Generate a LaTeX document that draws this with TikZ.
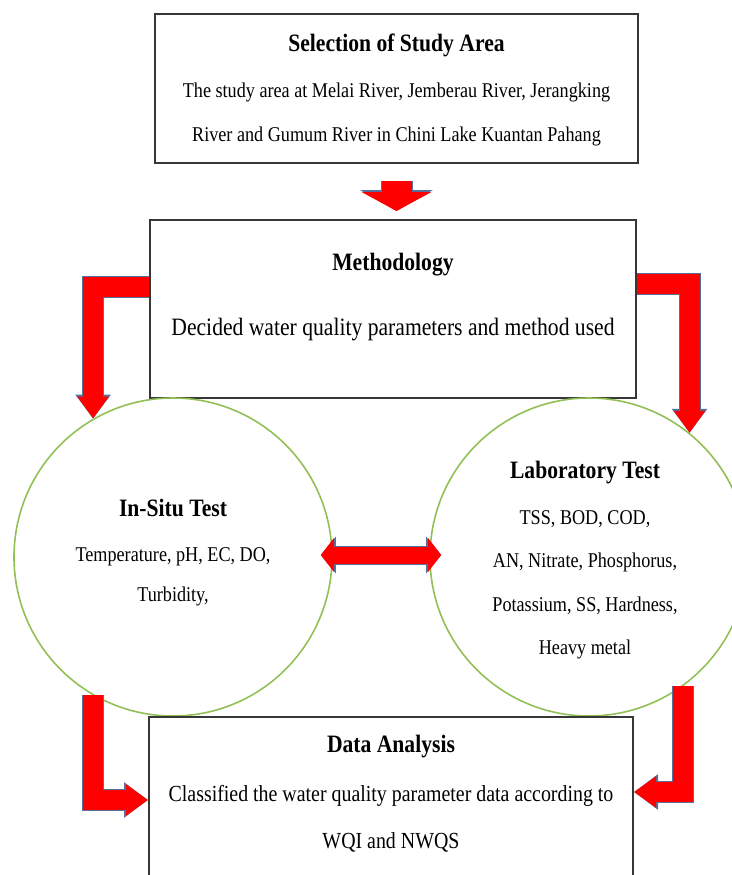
\documentclass[tikz,border=0pt]{standalone}
\usepackage{fontspec}
\setmainfont[FakeStretch=0.865]{Liberation Serif}
\usetikzlibrary{arrows.meta}
\definecolor{arrowred}{RGB}{255,0,0}
\definecolor{arrowedge}{RGB}{84,112,156}
\definecolor{ringgreen}{RGB}{146,192,86}
\definecolor{boxline}{RGB}{55,55,55}
\tikzstyle{format}=[rectangle,draw=boxline,line width=1pt,fill=white,inner sep=0pt]
\tikzstyle{test}=[circle,draw=ringgreen,line width=0.8pt,minimum size=159pt,inner sep=0pt]
\tikzstyle{title}=[inner sep=0pt,font=\bfseries\fontsize{12.5}{15}\selectfont]
\tikzstyle{body}=[align=center,inner sep=0pt,font=\fontsize{10.5}{22}\selectfont]
\tikzstyle{fat}=[draw=arrowred,line width=10pt,-{Triangle[length=11pt,width=15pt]},
  preaction={draw=arrowedge,line width=11pt,-{Triangle[length=12pt,width=17pt]}}]
\tikzstyle{bigdown}=[draw=arrowred,line width=15pt,-{Triangle[length=9.5pt,width=34.5pt]},
  preaction={draw=arrowedge,line width=16pt,-{Triangle[length=10.5pt,width=36pt]}}]
\tikzstyle{twoway}=[draw=arrowred,line width=8.5pt,{Triangle[length=6.5pt,width=16.5pt]}-{Triangle[length=6.5pt,width=16.5pt]},
  preaction={draw=arrowedge,line width=9.5pt,{Triangle[length=7.5pt,width=18pt]}-{Triangle[length=7.5pt,width=18pt]}}]

\begin{document}
\begin{tikzpicture}[x=0.5pt,y=-0.5pt]
  \useasboundingbox (0,0) rectangle (732,875);
  \clip (0,0) rectangle (732,875);
  % boxes
  \node[format,minimum width=241.5pt,minimum height=74.5pt] (select) at (396.5,88.5) {};
  \node[title] (selecttitle) at (396.5,45) {Selection of Study Area};
  \node[body] (selectbody) at (396.5,114) {The study area at Melai River, Jemberau River, Jerangking\\River and Gumum River in Chini Lake Kuantan Pahang};
  \node[format,minimum width=243pt,minimum height=89pt] (method) at (393,309) {};
  \node[title] (methodtitle) at (393,265) {Methodology};
  \node[body,font=\fontsize{12.5}{15}\selectfont] (methodbody) at (393,330) {Decided water quality parameters and method used};
  % tests
  \node[test] (insitu) at (173,557) {};
  \node[title] (insitutitle) at (173,508) {In-Situ Test};
  \node[body,font=\fontsize{10.5}{20}\selectfont] (insitubody) at (173,577) {Temperature, pH, EC, DO,\\Turbidity,};
  \node[test] (lab) at (589,557) {};
  \node[title] (labtitle) at (585,473) {Laboratory Test};
  \node[body,font=\fontsize{10.5}{21.7}\selectfont] (labbody) at (585,585) {TSS, BOD, COD,\\AN, Nitrate, Phosphorus,\\Potassium, SS, Hardness,\\Heavy metal};
  \node[format,minimum width=242pt,minimum height=83pt] (analysis) at (391,800) {};
  \node[title] (analysistitle) at (391,747) {Data Analysis};
  \node[body,font=\fontsize{11.5}{23.5}\selectfont] (analysisbody) at (391,818.5) {Classified the water quality parameter data according to\\WQI and NWQS};
  % arrows
  \draw[bigdown,shorten <=8.5pt,shorten >=4pt] (select.south) -- (select.south |- method.north);
  \draw[fat] ([yshift=11.25pt]method.west) -| (insitu.120);
  \draw[fat] ([yshift=12.5pt]method.east) -| (lab.51);
  \draw[twoway,shorten <=-6pt,shorten >=-6pt] ([yshift=1pt]insitu.east) -- ([yshift=1pt]lab.west);
  \draw[fat] (insitu.240) |- (analysis.west);
  \draw[fat] (lab.306) |- ([yshift=4pt]analysis.east);
\end{tikzpicture}
\end{document}
